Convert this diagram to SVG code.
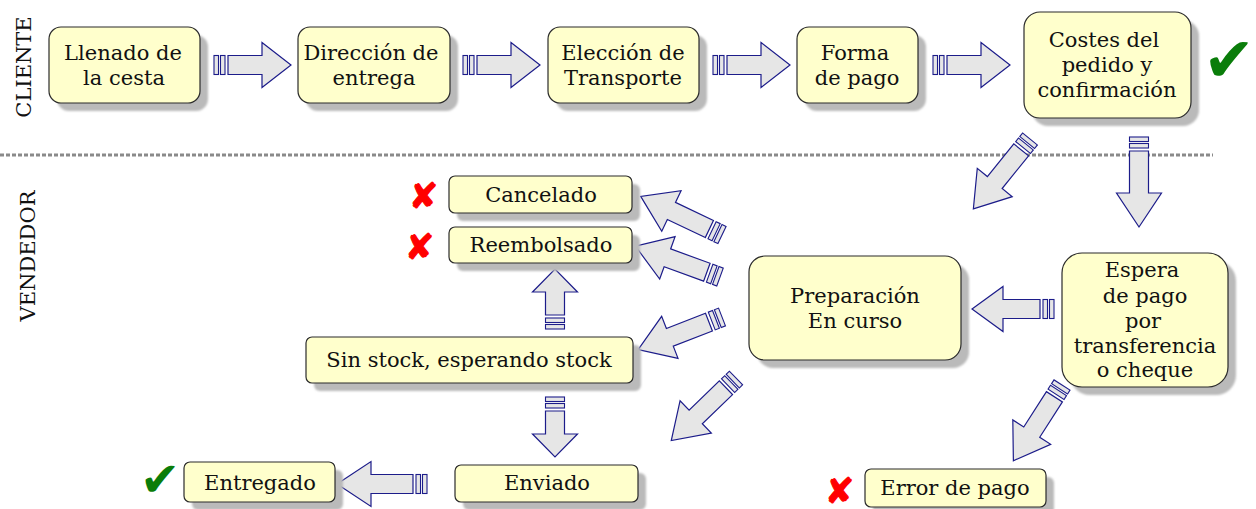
<svg xmlns="http://www.w3.org/2000/svg" xmlns:xlink="http://www.w3.org/1999/xlink" width="1256" height="509" viewBox="0 0 1256 509">
<style>
.box{fill:#ffffcc;stroke:#2b2b2b;stroke-width:1.2}
.shadow{fill:#bababa;filter:url(#blur)}
.t{font-family:"DejaVu Serif","Liberation Serif",serif;font-size:21px;fill:#111;text-anchor:middle}
.lane{font-family:"DejaVu Serif","Liberation Serif",serif;font-size:21px;fill:#111;text-anchor:middle}
.arr{fill:#e6e6e6;stroke:#1c1c8a;stroke-width:1.2;stroke-linejoin:miter}
.bar{fill:#e6e6e6;stroke:#1c1c8a;stroke-width:1.1}
.ok{font-family:"DejaVu Sans",sans-serif;fill:#0a7d0a}
.ko{font-family:"DejaVu Sans",sans-serif;fill:#ff0000;stroke:#ff0000;stroke-width:1.2;font-size:35px}
</style>
<defs>
<filter id="blur" x="-10%" y="-10%" width="120%" height="120%"><feGaussianBlur stdDeviation="1"/></filter>
<g id="bars"><rect class="bar" x="0" y="-9.5" width="4.5" height="19"/><rect class="bar" x="6.5" y="-9.5" width="4.5" height="19"/></g>
<path id="a77" class="arr" d="M14,-9.5H48V-22.5L77,0L48,22.5V9.5H14Z"/>
<path id="a90" class="arr" d="M14,-9.5H56V-22.5L90,0L56,22.5V9.5H14Z"/>
<path id="a82" class="arr" d="M14,-9.5H51V-22.5L82,0L51,22.5V9.5H14Z"/>
<path id="a60" class="arr" d="M14,-9.5H37V-22.5L60,0L37,22.5V9.5H14Z"/>
</defs>
<rect width="1256" height="509" fill="#ffffff"/>

<text class="lane" transform="translate(31,67) rotate(-90)">CLIENTE</text>
<text class="lane" transform="translate(35,256) rotate(-90)">VENDEDOR</text>
<line x1="0" y1="155" x2="1213" y2="155" stroke="#8a8a8a" stroke-width="3" stroke-dasharray="4 2"/>

<g id="connectors">
<g transform="translate(214,65)"><use xlink:href="#bars"/><use xlink:href="#a77"/></g>
<g transform="translate(463,65)"><use xlink:href="#bars"/><use xlink:href="#a77"/></g>
<g transform="translate(713,65)"><use xlink:href="#bars"/><use xlink:href="#a77"/></g>
<g transform="translate(933,65)"><use xlink:href="#bars"/><use xlink:href="#a77"/></g>
<g transform="translate(1030,139) rotate(129)"><use xlink:href="#bars"/><use xlink:href="#a90"/></g>
<g transform="translate(1139,137) rotate(90)"><use xlink:href="#bars"/><use xlink:href="#a90"/></g>
<g transform="translate(1054,309) rotate(180)"><use xlink:href="#bars"/><use xlink:href="#a82"/></g>
<g transform="translate(1062,385) rotate(122.7)"><use xlink:href="#bars"/><use xlink:href="#a90"/></g>
<g transform="translate(736,378) rotate(136)"><use xlink:href="#bars"/><use xlink:href="#a90"/></g>
<g transform="translate(722,235) rotate(205.4)"><use xlink:href="#bars"/><use xlink:href="#a90"/></g>
<g transform="translate(720,277) rotate(200)"><use xlink:href="#bars"/><use xlink:href="#a90"/></g>
<g transform="translate(722,317) rotate(158.7)"><use xlink:href="#bars"/><use xlink:href="#a90"/></g>
<g transform="translate(555,329) rotate(-90)"><use xlink:href="#bars"/><use xlink:href="#a60"/></g>
<g transform="translate(555,397) rotate(90)"><use xlink:href="#bars"/><use xlink:href="#a60"/></g>
<g transform="translate(427,484) rotate(180)"><use xlink:href="#bars"/><use xlink:href="#a90"/></g>
</g>

<g id="n-llenado">
<rect class="shadow" x="57" y="35" width="151" height="76" rx="12"/>
<rect class="box" x="49" y="27" width="151" height="76" rx="12"/>
<text class="t" x="123" y="60">Llenado de</text><text class="t" x="124" y="85">la cesta</text>
</g>
<g id="n-direccion">
<rect class="shadow" x="306" y="35" width="152" height="76" rx="12"/>
<rect class="box" x="298" y="27" width="152" height="76" rx="12"/>
<text class="t" x="371" y="60">Dirección de</text><text class="t" x="374" y="85">entrega</text>
</g>
<g id="n-transporte">
<rect class="shadow" x="556" y="35" width="151" height="76" rx="12"/>
<rect class="box" x="548" y="27" width="151" height="76" rx="12"/>
<text class="t" x="623" y="60">Elección de</text><text class="t" x="623" y="85">Transporte</text>
</g>
<g id="n-forma">
<rect class="shadow" x="805" y="35" width="121" height="76" rx="12"/>
<rect class="box" x="797" y="27" width="121" height="76" rx="12"/>
<text class="t" x="855" y="60">Forma</text><text class="t" x="857" y="85">de pago</text>
</g>
<g id="n-costes">
<rect class="shadow" x="1032" y="20" width="167" height="106" rx="16"/>
<rect class="box" x="1024" y="12" width="167" height="106" rx="16"/>
<text class="t" x="1104" y="47">Costes del</text><text class="t" x="1107" y="72">pedido y</text><text class="t" x="1107" y="97">confirmación</text>
</g>
<text class="ok" x="1255" y="81" font-size="62" text-anchor="end">✔</text>

<g id="n-cancelado">
<rect class="shadow" x="457" y="184" width="183" height="37" rx="6"/>
<rect class="box" x="449" y="176" width="183" height="37" rx="6"/>
<text class="t" x="541" y="202">Cancelado</text>
</g>
<text class="ko" x="409" y="208">✘</text>
<g id="n-reembolsado">
<rect class="shadow" x="457" y="235" width="183" height="36" rx="6"/>
<rect class="box" x="449" y="227" width="183" height="36" rx="6"/>
<text class="t" x="541" y="252">Reembolsado</text>
</g>
<text class="ko" x="405" y="259">✘</text>
<g id="n-sinstock">
<rect class="shadow" x="314" y="345" width="327" height="46" rx="6"/>
<rect class="box" x="306" y="337" width="327" height="46" rx="6"/>
<text class="t" x="469" y="367">Sin stock, esperando stock</text>
</g>
<g id="n-preparacion">
<rect class="shadow" x="757" y="264" width="212" height="104" rx="16"/>
<rect class="box" x="749" y="256" width="212" height="104" rx="16"/>
<text class="t" x="855" y="303">Preparación</text><text class="t" x="855" y="328">En curso</text>
</g>
<g id="n-espera">
<rect class="shadow" x="1070" y="261" width="166" height="134" rx="20"/>
<rect class="box" x="1062" y="253" width="166" height="134" rx="20"/>
<text class="t" x="1142" y="277">Espera</text><text class="t" x="1145" y="303">de pago</text><text class="t" x="1143" y="328">por</text><text class="t" x="1145" y="353">transferencia</text><text class="t" x="1145" y="377">o cheque</text>
</g>
<g id="n-error">
<rect class="shadow" x="873" y="477" width="181" height="38" rx="6"/>
<rect class="box" x="865" y="469" width="181" height="38" rx="6"/>
<text class="t" x="955" y="495">Error de pago</text>
</g>
<text class="ko" x="825" y="503">✘</text>
<g id="n-enviado">
<rect class="shadow" x="463" y="473" width="183" height="37" rx="6"/>
<rect class="box" x="455" y="465" width="183" height="37" rx="6"/>
<text class="t" x="547" y="490">Enviado</text>
</g>
<g id="n-entregado">
<rect class="shadow" x="192" y="470" width="151" height="40" rx="6"/>
<rect class="box" x="184" y="462" width="151" height="40" rx="6"/>
<text class="t" x="260" y="490">Entregado</text>
</g>
<text class="ok" x="140" y="496" font-size="48">✔</text>
</svg>
